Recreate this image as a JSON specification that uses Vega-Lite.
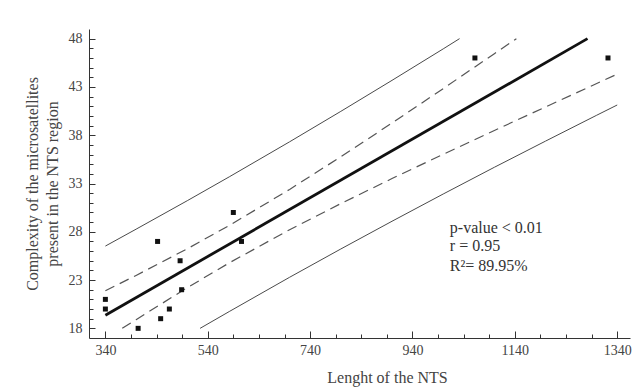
{
  "$schema": "https://vega.github.io/schema/vega-lite/v6.json",
  "width": 541,
  "height": 309,
  "autosize": "none",
  "padding": {"left": 89, "top": 29, "right": 14, "bottom": 51},
  "background": "white",
  "config": {
    "view": {"stroke": null},
    "font": "Liberation Serif",
    "axis": {
      "grid": false,
      "domainColor": "#333333",
      "tickColor": "#333333",
      "labelColor": "#444444",
      "titleColor": "#444444",
      "labelFont": "Liberation Serif",
      "titleFont": "Liberation Serif",
      "titleFontWeight": "normal",
      "labelFontSize": 14,
      "titleFontSize": 16
    }
  },
  "datasets": {
    "points": [
      {"len": 340, "cx": 21}, {"len": 340, "cx": 20}, {"len": 404, "cx": 18},
      {"len": 448, "cx": 19}, {"len": 465, "cx": 20}, {"len": 442, "cx": 27},
      {"len": 486, "cx": 25}, {"len": 489, "cx": 22}, {"len": 590, "cx": 30},
      {"len": 606, "cx": 27}, {"len": 1062, "cx": 46}, {"len": 1322, "cx": 46}
    ],
    "fit": [
      {"len": 340, "cx": 19.36}, {"len": 1282, "cx": 48.0}
    ],
    "ci": [
      {"band": "upper", "len": 340, "cx": 21.89}, {"band": "upper", "len": 400, "cx": 23.48},
      {"band": "upper", "len": 500, "cx": 26.24}, {"band": "upper", "len": 583, "cx": 28.68},
      {"band": "upper", "len": 700, "cx": 32.39}, {"band": "upper", "len": 800, "cx": 35.77},
      {"band": "upper", "len": 900, "cx": 39.26}, {"band": "upper", "len": 1000, "cx": 42.83},
      {"band": "upper", "len": 1100, "cx": 46.44}, {"band": "upper", "len": 1143, "cx": 48.0},
      {"band": "lower", "len": 373, "cx": 18.0}, {"band": "lower", "len": 400, "cx": 18.9},
      {"band": "lower", "len": 500, "cx": 22.21}, {"band": "lower", "len": 583, "cx": 24.81},
      {"band": "lower", "len": 700, "cx": 28.22}, {"band": "lower", "len": 800, "cx": 30.92},
      {"band": "lower", "len": 900, "cx": 33.51}, {"band": "lower", "len": 1000, "cx": 36.02},
      {"band": "lower", "len": 1100, "cx": 38.49}, {"band": "lower", "len": 1200, "cx": 40.93},
      {"band": "lower", "len": 1300, "cx": 43.36}, {"band": "lower", "len": 1340, "cx": 44.32}
    ],
    "pi": [
      {"band": "upper", "len": 340, "cx": 26.52}, {"band": "upper", "len": 400, "cx": 28.27},
      {"band": "upper", "len": 500, "cx": 31.22}, {"band": "upper", "len": 583, "cx": 33.72},
      {"band": "upper", "len": 700, "cx": 37.32}, {"band": "upper", "len": 800, "cx": 40.47},
      {"band": "upper", "len": 900, "cx": 43.68}, {"band": "upper", "len": 1000, "cx": 46.94},
      {"band": "upper", "len": 1032, "cx": 48.0},
      {"band": "lower", "len": 525, "cx": 18.0}, {"band": "lower", "len": 583, "cx": 19.77},
      {"band": "lower", "len": 700, "cx": 23.29}, {"band": "lower", "len": 800, "cx": 26.22},
      {"band": "lower", "len": 900, "cx": 29.09}, {"band": "lower", "len": 1000, "cx": 31.91},
      {"band": "lower", "len": 1100, "cx": 34.68}, {"band": "lower", "len": 1200, "cx": 37.39},
      {"band": "lower", "len": 1300, "cx": 40.07}, {"band": "lower", "len": 1340, "cx": 41.13}
    ],
    "notes": [
      {"len": 1013, "cx": 28.4, "label": "p-value < 0.01"},
      {"len": 1013, "cx": 26.5, "label": "r = 0.95"},
      {"len": 1013, "cx": 24.5, "label": "R²= 89.95%"}
    ]
  },
  "layer": [
    {
      "data": {"name": "pi"},
      "mark": {"type": "line", "color": "#4a4a4a", "strokeWidth": 1, "clip": true},
      "encoding": {
        "x": {
          "field": "len", "type": "quantitative",
          "scale": {"domain": [308, 1365], "nice": false, "zero": false},
          "axis": {
            "orient": "bottom",
            "title": "Lenght of the NTS",
            "values": [340, 540, 740, 940, 1140, 1340],
            "format": "d",
            "labelFlush": false,
            "labelOverlap": false,
            "tickSize": -7,
            "labelPadding": 12,
            "titleX": 298,
            "titlePadding": 12
          }
        },
        "y": {
          "field": "cx", "type": "quantitative",
          "scale": {"domain": [17, 49], "nice": false, "zero": false},
          "axis": {
            "orient": "left",
            "title": ["Complexity of the microsatellites", "present in the NTS region"],
            "titleLineHeight": 20,
            "values": [18, 23, 28, 33, 38, 43, 48],
            "format": "d",
            "labelOverlap": false,
            "labelFlush": false,
            "tickSize": -6,
            "labelPadding": 13,
            "titlePadding": 8
          }
        },
        "detail": {"field": "band"}
      }
    },
    {
      "data": {"name": "ci"},
      "mark": {"type": "line", "color": "#555555", "strokeWidth": 1.2, "strokeDash": [10, 6], "clip": true},
      "encoding": {
        "x": {"field": "len", "type": "quantitative",
          "axis": {
            "orient": "bottom",
            "title": null,
            "labels": false,
            "domain": false,
            "values": [390, 440, 490, 590, 640, 690, 790, 840, 890, 990, 1040, 1090, 1190, 1240, 1290],
            "tickSize": -4
          }
        },
        "y": {"field": "cx", "type": "quantitative",
          "axis": {
            "orient": "left",
            "title": null,
            "labels": false,
            "domain": false,
            "values": [19, 20, 21, 22, 24, 25, 26, 27, 29, 30, 31, 32, 34, 35, 36, 37, 39, 40, 41, 42, 44, 45, 46, 47],
            "tickSize": -4
          }
        },
        "detail": {"field": "band"}
      }
    },
    {
      "data": {"name": "fit"},
      "mark": {"type": "line", "color": "#111111", "strokeWidth": 2.8},
      "encoding": {
        "x": {"field": "len", "type": "quantitative", "axis": null},
        "y": {"field": "cx", "type": "quantitative", "axis": null}
      }
    },
    {
      "data": {"name": "points"},
      "mark": {"type": "point", "shape": "square", "filled": true, "color": "#111111", "size": 25, "opacity": 1},
      "encoding": {
        "x": {"field": "len", "type": "quantitative", "axis": null},
        "y": {"field": "cx", "type": "quantitative", "axis": null}
      }
    },
    {
      "data": {"name": "notes"},
      "mark": {"type": "text", "align": "left", "baseline": "middle", "fontSize": 16, "color": "#333333", "font": "Liberation Serif"},
      "encoding": {
        "x": {"field": "len", "type": "quantitative", "axis": null},
        "y": {"field": "cx", "type": "quantitative", "axis": null},
        "text": {"field": "label"}
      }
    }
  ],
  "resolve": {"axis": {"x": "independent", "y": "independent"}}
}
